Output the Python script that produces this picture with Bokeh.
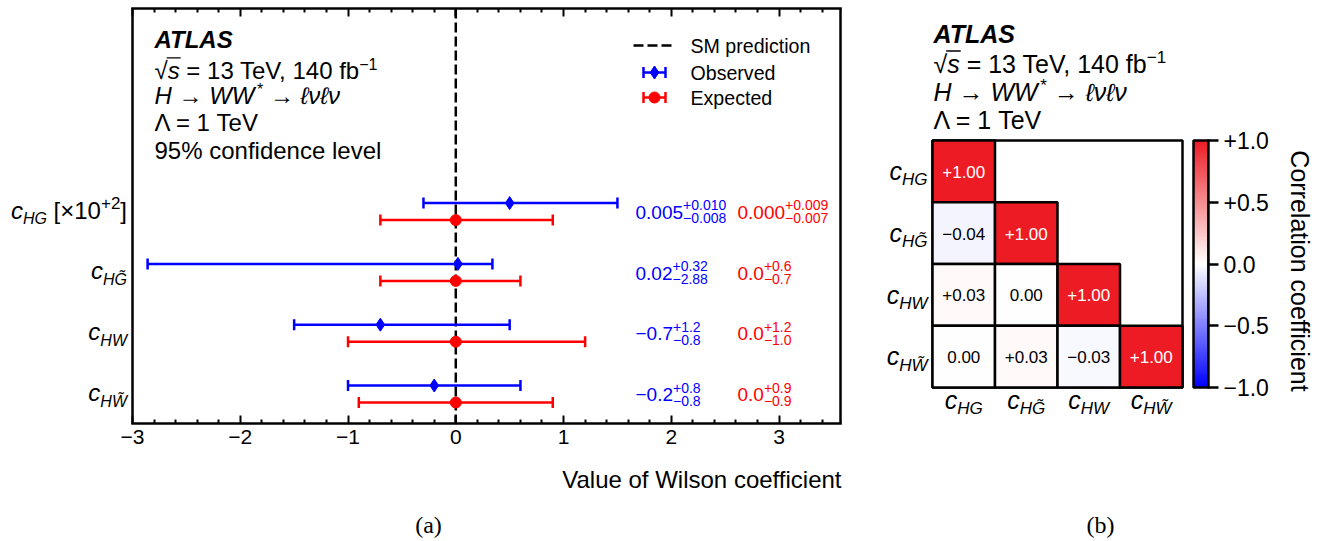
import numpy as np
from bokeh.plotting import figure
from bokeh.models import (Range1d, LinearAxis, FixedTicker, Span, Whisker, TeeHead,
                          ColumnDataSource, LinearColorMapper)
from bokeh.layouts import row, column
from bokeh.core.properties import value
from bokeh.embed import file_html
from bokeh.resources import INLINE

SANS = "Liberation Sans"
SERIF = "Liberation Serif"
MINUS = "\u2212"

# ---------------------------------------------------------------- data
# Wilson coefficients, listed top to bottom
coef_sub = ["HG", "HG\u0303", "HW", "HW\u0303"]
display_scale = [100, 1, 1, 1]          # c_HG is shown multiplied by 10^2
obs_val = [0.005, 0.02, -0.7, -0.2]
obs_up = [0.010, 0.32, 1.2, 0.8]
obs_dn = [0.008, 2.88, 0.8, 0.8]
obs_dec = [3, 2, 1, 1]
exp_val = [0.0, 0.0, 0.0, 0.0]
exp_up = [0.009, 0.6, 1.2, 0.9]
exp_dn = [0.007, 0.7, 1.0, 0.9]
exp_dec = [3, 1, 1, 1]

# correlation matrix, lower triangle row by row
corr_rows = [[1.00],
             [-0.04, 1.00],
             [0.03, 0.00, 1.00],
             [0.00, 0.03, -0.03, 1.00]]

x_major = [-3, -2, -1, 0, 1, 2, 3]
x_minor = [round(-3 + 0.2 * i, 1) for i in range(33) if i % 5]
cbar_ticks = [-1, -0.5, 0, 0.5, 1]
cbar_labels = {-1: MINUS + "1.0", -0.5: MINUS + "0.5", 0: "0.0", 0.5: "+0.5", 1: "+1.0"}

# ---------------------------------------------------------------- text helpers
ADV = {' ': 278, '+': 584, MINUS: 584, '-': 333, '.': 278, ',': 278, '%': 889, '*': 389,
       '=': 584, '[': 278, ']': 278, '\u00d7': 584, '\u2192': 1000, '\u221a': 549,
       '\u039b': 667, '\u2113': 417, '\u03bd': 500, '\u0303': 0, '(': 333, ')': 333}
for d in "0123456789":
    ADV[d] = 556
ADV.update(dict(zip("ABCDEFGHIJKLMNOPQRSTUVWXYZ",
                    [667, 667, 722, 722, 667, 611, 778, 722, 278, 500, 667, 556, 833,
                     722, 778, 667, 778, 722, 667, 611, 722, 667, 944, 667, 667, 611])))
ADV.update(dict(zip("abcdefghijklmnopqrstuvwxyz",
                    [556, 556, 500, 556, 556, 278, 556, 556, 222, 222, 500, 222, 833,
                     556, 556, 556, 556, 333, 500, 278, 556, 500, 722, 500, 500, 500])))

BASE_K = 0.33   # baseline correction of the text glyph, as a fraction of the font size


def tw(s, size):
    return sum(ADV.get(ch, 556) for ch in s) * size / 1000.0


def fmt(v, d):
    s = f"{abs(v):.{d}f}"
    return (MINUS + s) if v < 0 and float(s) != 0 else s


def put(p, X, Y, px, base, txt, size, style="normal", color="black", align="left", font=SANS):
    """Draw txt with its baseline at page pixel row `base`."""
    p.text(x=[X(px)], y=[Y(base - BASE_K * size)], text=[txt], text_font=value(font),
           text_font_size=f"{size}px", text_font_style=style, text_color=color,
           text_align=align, text_baseline="alphabetic")


def run(p, X, Y, x0, base, parts, color="black"):
    """Lay out (text, size, style, baseline shift[, extra advance]) pieces left to right."""
    x = x0
    for part in parts:
        txt, size, style, dy = part[:4]
        x += part[4] if len(part) > 4 else 0
        lead = len(txt) - len(txt.lstrip(" "))
        x += tw(" " * lead, size)
        body = txt.lstrip(" ")
        put(p, X, Y, x, base + dy, body, size, style, color)
        x += tw(body, size)
    return x


def width_of(parts):
    return sum(tw(pt[0], pt[1]) + (pt[4] if len(pt) > 4 else 0) for pt in parts)


def bwr_palette(n=256):
    lo, hi = (0, 0, 255), (237, 28, 36)
    cols = []
    for i in range(n):
        t = i / (n - 1)
        if t < 0.5:
            f = t / 0.5
            c = [255 + (lo[k] - 255) * (1 - f) for k in range(3)]
        else:
            f = (t - 0.5) / 0.5
            c = [255 + (hi[k] - 255) * f for k in range(3)]
        cols.append("#%02x%02x%02x" % tuple(int(round(v)) for v in c))
    return cols


palette = bwr_palette()
cmap = LinearColorMapper(palette=palette, low=-1, high=1)

# ---------------------------------------------------------------- panel (a)
A_W, A_H, A2_H = 860, 457, 84
FR_T, FR_B = 8, 423
X_MIN, X_MAX = -3.0, 3.57
BOX_L, BOX_R = 132, 840
SX = (BOX_R - BOX_L) / (X_MAX - X_MIN)
ROW0, ROWH = 393.5, 60.8


def AX(px):
    return X_MIN + (px - BOX_L) / SX


def AY(py):
    return (ROW0 - py) / ROWH


pA = figure(width=A_W, height=A_H, output_backend="svg", toolbar_location=None,
            x_range=Range1d(AX(0), AX(A_W)), y_range=Range1d(AY(FR_B), AY(FR_T)),
            min_border=0, min_border_top=FR_T, min_border_bottom=A_H - FR_B,
            y_axis_location=None, x_axis_location="below")
pA.grid.visible = False
pA.outline_line_color = None


def frame_axis(ax):
    ax.bounds = (X_MIN, X_MAX)
    ax.axis_line_color = "black"
    ax.axis_line_width = 2.5
    ax.axis_line_cap = "square"
    ax.major_tick_line_color = "black"
    ax.minor_tick_line_color = "black"
    ax.major_tick_line_width = 2
    ax.minor_tick_line_width = 2
    ax.major_tick_in = 8
    ax.major_tick_out = 0
    ax.minor_tick_in = 4
    ax.minor_tick_out = 0


xa = pA.xaxis[0]
xa.ticker = FixedTicker(ticks=x_major, minor_ticks=x_minor)
frame_axis(xa)
xa.major_label_overrides = {t: (MINUS + str(-t)) for t in x_major if t < 0}
xa.major_label_text_font = SANS
xa.major_label_text_font_size = "21px"
xa.major_label_text_color = "black"
xa.major_label_standoff = 6

# top edge of the frame: two label-free axes carrying the long and short ticks
for ticks, tick_len, line in ((x_major, 8, "black"), (x_minor, 4, None)):
    ta = LinearAxis(ticker=FixedTicker(ticks=[], minor_ticks=ticks))
    frame_axis(ta)
    ta.minor_tick_in = tick_len
    ta.axis_line_color = line
    ta.major_label_standoff = 0
    ta.axis_label_standoff = 0
    pA.add_layout(ta, "above")

for loc in (X_MIN, X_MAX):
    pA.add_layout(Span(location=loc, dimension="height", line_color="black", line_width=2.5))
pA.add_layout(Span(location=0, dimension="height", line_color="black", line_width=2.5,
                   line_dash="10 4", level="underlay"))

n = len(coef_sub)
rows_y = [n - 1 - i for i in range(n)]
dy_pair = 8.5 / ROWH


def interval_source(val, up, dn, shift):
    xs = [v * s for v, s in zip(val, display_scale)]
    lo = [(v - d) * s for v, d, s in zip(val, dn, display_scale)]
    hi = [(v + u) * s for v, u, s in zip(val, up, display_scale)]
    ys = [r + shift for r in rows_y]
    return ColumnDataSource(dict(x=xs, y=ys, lo=lo, hi=hi))


src_obs = interval_source(obs_val, obs_up, obs_dn, dy_pair)
src_exp = interval_source(exp_val, exp_up, exp_dn, -dy_pair)

for src, col in ((src_obs, "blue"), (src_exp, "red")):
    pA.add_layout(Whisker(source=src, base="y", lower="lo", upper="hi", dimension="width",
                          line_color=col, line_width=2.5, level="underlay",
                          upper_head=TeeHead(size=11, line_color=col, line_width=2.5),
                          lower_head=TeeHead(size=11, line_color=col, line_width=2.5)))
pA.scatter("x", "y", source=src_obs, marker="diamond", size=13, color="blue")
pA.scatter("x", "y", source=src_exp, marker="circle", size=11, color="red")

for i in range(n):
    yc = ROW0 - rows_y[i] * ROWH          # page px of the row centre
    # central value with its upper/lower uncertainty
    for x0, val, up, dn, dec, col in ((635, obs_val[i], obs_up[i], obs_dn[i], obs_dec[i], "blue"),
                                      (737, exp_val[i], exp_up[i], exp_dn[i], exp_dec[i], "red")):
        main = fmt(val, dec)
        put(pA, AX, AY, x0, yc + 7, main, 19, color=col)
        xs = x0 + tw(main, 19)
        put(pA, AX, AY, xs, yc - 1.5, "+" + fmt(up, dec), 14, color=col)
        put(pA, AX, AY, xs, yc + 11.5, MINUS + fmt(dn, dec), 14, color=col)

    # row label, right aligned against the frame
    parts = [("c", 24, "italic", 0), (coef_sub[i], 16, "italic", 6)]
    if display_scale[i] != 1:
        exp10 = int(round(np.log10(display_scale[i])))
        parts += [(" [\u00d710", 24, "normal", 0), ("+%d" % exp10, 17, "normal", -9),
                  ("]", 24, "normal", 0)]
    run(pA, AX, AY, 126.5 - width_of(parts), yc + 6.5, parts)


def atlas_block(p, X, Y, x0, bases, size, extra=None):
    sup = round(size * 0.68)
    run(p, X, Y, x0, bases[0], [("ATLAS", size, "bold italic", 0)])
    run(p, X, Y, x0, bases[1], [("\u221a", size, "normal", 0), ("s", size, "italic", 0),
                                (" = 13 TeV, 140 fb", size, "normal", 0),
                                (MINUS + "1", sup, "normal", -0.38 * size, -0.22 * size)])
    rad = x0 + tw("\u221a", size)
    yb = bases[1] - 0.86 * size
    p.segment(x0=[X(rad - 1)], y0=[Y(yb)], x1=[X(rad + tw("s", size) + 1)], y1=[Y(yb)],
              line_color="black", line_width=1.4)
    run(p, X, Y, x0, bases[2], [("H \u2192 WW", size, "italic", 0),
                                ("*", sup, "normal", -0.38 * size, 2.5),
                                (" \u2192 \u2113\u03bd\u2113\u03bd", size, "italic", 0)])
    run(p, X, Y, x0, bases[3], [("\u039b = 1 TeV", size, "normal", 0)])
    if extra:
        run(p, X, Y, x0, bases[4], [(extra, size, "normal", 0)])


atlas_block(pA, AX, AY, 154, [47, 78, 103, 130, 158], 24, "95% confidence level")

# legend
pA.segment(x0=[AX(633)], y0=[AY(45)], x1=[AX(672)], y1=[AY(45)], line_color="black",
           line_width=2.5, line_dash="10 4")
for yy, col, mk, sz in ((72, "blue", "diamond", 13), (97, "red", "circle", 11)):
    pA.segment(x0=[AX(643)], y0=[AY(yy)], x1=[AX(665)], y1=[AY(yy)], line_color=col, line_width=2.5)
    pA.segment(x0=[AX(643), AX(665)], y0=[AY(yy - 5.5)] * 2, x1=[AX(643), AX(665)],
               y1=[AY(yy + 5.5)] * 2, line_color=col, line_width=2.5)
    pA.scatter(x=[AX(654)], y=[AY(yy)], marker=mk, size=sz, color=col)
for yy, txt in ((45, "SM prediction"), (72, "Observed"), (97, "Expected")):
    put(pA, AX, AY, 690, yy + 7, txt, 19.6)

# strip below panel (a): axis title and caption
pA2 = figure(width=A_W, height=A2_H, output_backend="svg", toolbar_location=None,
             x_range=Range1d(0, A_W), y_range=Range1d(A_H + A2_H, A_H),
             min_border=0, x_axis_location=None, y_axis_location=None)
pA2.grid.visible = False
pA2.outline_line_color = None
ident = lambda v: v
put(pA2, ident, ident, 841, 487, "Value of Wilson coefficient", 24, align="right")
put(pA2, ident, ident, 428, 532, "(a)", 24, align="center", font=SERIF)

# ---------------------------------------------------------------- panel (b) + colour bar
B_L, B_R, B_W = 860, 1208, 1322 - 860
M_L, M_T, CW, CH = 932, 140, 62.5, 61.75
CB_L, CB_T, CB_B = 1193, 140, 387


def BX(px):
    return (px - M_L) / CW


def BY(py):
    return (py - M_T) / CH


def CBV(py):
    # correlation value at page row py along the colour bar
    return -1 + 2 * (CB_B - py) / (CB_B - CB_T)


pB = figure(width=B_W, height=541, output_backend="svg", toolbar_location=None,
            x_range=Range1d(BX(B_L), BX(B_R)), y_range=Range1d(BY(541), BY(0)),
            min_border=0, min_border_right=1322 - B_R,
            x_axis_location=None, y_axis_location=None)
pB.grid.visible = False
pB.outline_line_color = None
pB.extra_y_ranges = {"cbar": Range1d(CBV(541), CBV(0))}

cx, cy, cv, ct, cc = [], [], [], [], []
for r, vals in enumerate(corr_rows):
    for c, v in enumerate(vals):
        cx.append(c + 0.5)
        cy.append(r + 0.5)
        cv.append(v)
        ct.append("0.00" if v == 0 else ("+%.2f" % v if v > 0 else MINUS + "%.2f" % -v))
        cc.append("white" if v > 0.5 else "black")
cell_base = (6.2 - BASE_K * 17) / CH
csrc = ColumnDataSource(dict(x=cx, y=cy, v=cv, t=ct, ty=[y + cell_base for y in cy], tc=cc))
nmat = len(corr_rows)
pB.rect(x=[nmat / 2], y=[nmat / 2], width=nmat, height=nmat, fill_color=None,
        line_color="black", line_width=2.5)
pB.rect("x", "y", width=1, height=1, source=csrc, fill_color=dict(field="v", transform=cmap),
        line_color="black", line_width=2.5)
pB.text("x", "ty", text="t", source=csrc, text_color="tc", text_font=value(SANS),
        text_font_size="17px", text_align="center", text_baseline="alphabetic")

for i in range(nmat):
    parts = [("c", 25, "italic", 0), (coef_sub[i], 17, "italic", 6)]
    w = width_of(parts)
    row_c = M_T + (i + 0.5) * CH
    run(pB, BX, BY, 927 - w, row_c + 8, parts)
    col_c = M_L + (i + 0.5) * CW
    run(pB, BX, BY, col_c - w / 2, 408, parts)

atlas_block(pB, BX, BY, 933, [42, 72, 100, 128], 25)
put(pB, BX, BY, 1100, 532, "(b)", 24, align="center", font=SERIF)

# colour bar drawn from the same colour mapper
grad = np.linspace(-1, 1, 256).reshape(256, 1)
pB.image(image=[grad], x=BX(CB_L), y=-1, dw=BX(B_R) - BX(CB_L), dh=2, color_mapper=cmap,
         y_range_name="cbar")
pB.quad(left=[BX(CB_L)], right=[BX(B_R)], bottom=[-1], top=[1], fill_color=None,
        line_color="black", line_width=2.5, y_range_name="cbar")
ya = LinearAxis(y_range_name="cbar", ticker=FixedTicker(ticks=cbar_ticks), bounds=(-1, 1))
ya.major_label_overrides = cbar_labels
ya.major_tick_out = 10
ya.major_tick_in = 0
ya.major_tick_line_width = 2.5
ya.major_tick_line_color = "black"
ya.axis_line_width = 2.5
ya.axis_line_color = "black"
ya.axis_line_cap = "square"
ya.major_label_text_font = SANS
ya.major_label_text_font_size = "23px"
ya.major_label_text_color = "black"
ya.major_label_standoff = 5
ya.axis_label = "Correlation coefficient"
ya.axis_label_text_font = SANS
ya.axis_label_text_font_size = "25px"
ya.axis_label_text_font_style = "normal"
ya.axis_label_text_color = "black"
ya.axis_label_standoff = 14
pB.add_layout(ya, "right")

layout = row(column(pA, pA2), pB)
open("out.html", "w").write(file_html(layout, INLINE))
